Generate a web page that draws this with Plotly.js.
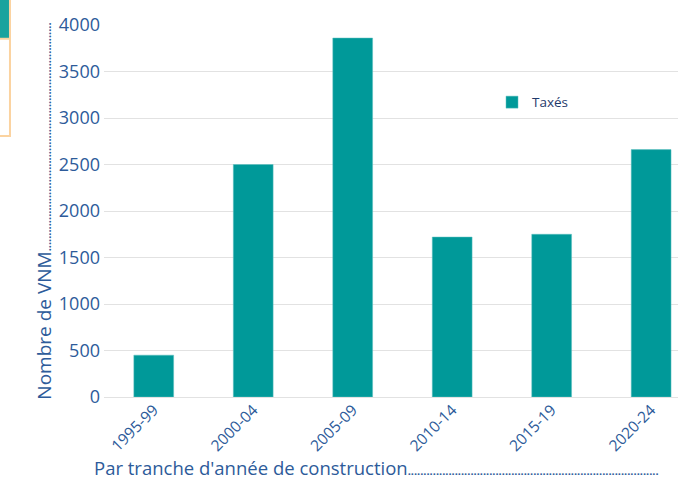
<!DOCTYPE html>
<html><head><meta charset="utf-8">
<script src="https://cdn.plot.ly/plotly-3.0.1.min.js"></script>
<style>html,body{margin:0;padding:0;background:#fff}#chart{width:678px;height:481px}</style>
</head><body><div id="chart"></div>
<script>
const categories = ["1995-99","2000-04","2005-09","2010-14","2015-19","2020-24"];
const taxes = [450, 2500, 3860, 1720, 1750, 2660];
const seriesName = "Taxés";
const yTitle = "Nombre de VNM";
const xTitle = "Par tranche d'année de construction";

const blue = "#2D5B9A";
const font = "Open Sans, sans-serif";
const dots = n => '<span style="font-size:11px;font-weight:bold">' + ".".repeat(n) + '</span>';

const trace = {
  type: "bar", x: categories, y: taxes, name: seriesName,
  width: 0.4,
  marker: {color: "#009999", line: {color: "#5fc0c0", width: 0.5}},
  hoverinfo: "skip"
};

const layout = {
  width: 678, height: 481,
  margin: {l: 104, r: 0, t: 25, b: 84},
  paper_bgcolor: "#fff", plot_bgcolor: "#fff",
  font: {family: font, color: blue},
  showlegend: true,
  legend: {x: 0.676, y: 0.792, xanchor: "left", yanchor: "middle",
    font: {size: 13.5, color: "#1F3A6B", family: font}, bgcolor: "rgba(0,0,0,0)"},
  xaxis: {
    type: "category", range: [-0.5, 5.27], tickangle: -45, tickfont: {size: 15.5, color: blue},
    showgrid: false, zeroline: false, showline: false, ticks: "", automargin: false
  },
  yaxis: {
    range: [0, 4000], dtick: 500, tickfont: {size: 18, color: blue},
    gridcolor: "#e2e2e2", gridwidth: 1, zeroline: true, zerolinecolor: "#e2e2e2",
    showline: false, ticks: "", ticklabelstandoff: 3, automargin: false,
    title: {text: yTitle + dots(73), font: {size: 19, color: blue}, standoff: 2}
  },
  annotations: [{
    xref: "paper", yref: "paper", x: -0.021, y: -0.19, xanchor: "left", yanchor: "middle",
    text: xTitle + dots(80),
    showarrow: false, font: {size: 18.5, color: blue, family: font}
  }],
  shapes: [
    {type: "rect", xref: "paper", yref: "paper", x0: -0.19, x1: -0.1638, y0: 0.965, y1: 1.08,
      fillcolor: "#1AA39E", line: {width: 0}, layer: "above"},
    {type: "path", xref: "paper", yref: "paper",
      path: "M -0.19 0.7016 L -0.1638 0.7016 L -0.1638 1.08",
      line: {color: "#FBD3A0", width: 2}, layer: "above"},
    {type: "line", xref: "paper", yref: "paper", x0: -0.19, x1: -0.1638, y0: 0.963, y1: 0.963,
      line: {color: "#FBD3A0", width: 2}, layer: "above"}
  ]
};

Plotly.newPlot("chart", [trace], layout, {displayModeBar: false, staticPlot: true});
</script></body></html>
